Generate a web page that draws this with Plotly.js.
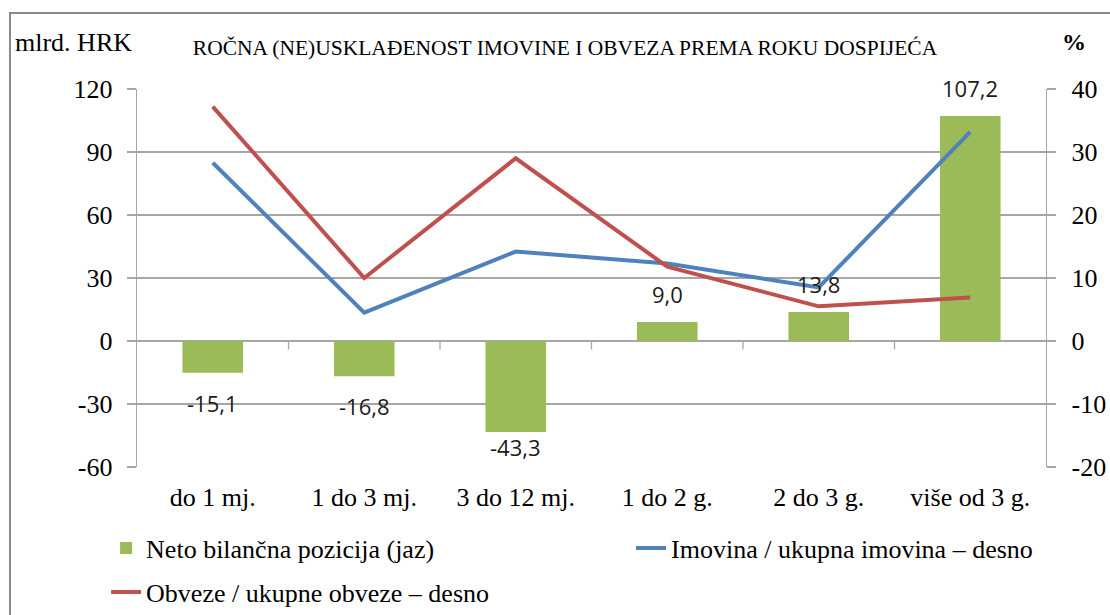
<!DOCTYPE html>
<html>
<head>
<meta charset="utf-8">
<script src="https://cdn.plot.ly/plotly-3.0.1.min.js"></script>
<style>html,body{margin:0;padding:0;background:#fff;}#chart{width:1110px;height:615px;}</style>
</head>
<body>
<div id="chart"></div>
<script>
const categories = ['do 1 mj.', '1 do 3 mj.', '3 do 12 mj.', '1 do 2 g.', '2 do 3 g.', 'više od 3 g.'];
const netoJaz = [-15.1, -16.8, -43.3, 9.0, 13.8, 107.2];
const imovinaPct = [28.3, 4.5, 14.2, 12.3, 8.5, 33.2];
const obvezePct = [37.2, 10.0, 29.0, 11.8, 5.5, 6.9];
const leftTicks = [-60, -30, 0, 30, 60, 90, 120];
const rightTicks = [-20, -10, 0, 10, 20, 30, 40];
const seriesNames = ['Neto bilančna pozicija (jaz)', 'Imovina / ukupna imovina – desno', 'Obveze / ukupne obveze – desno'];
const chartTitle = 'ROČNA (NE)USKLAĐENOST IMOVINE I OBVEZA PREMA ROKU DOSPIJEĆA';
const leftUnit = 'mlrd. HRK';
const rightUnit = '%';

const idx = categories.map((c, i) => i);
const serif = 'Liberation Serif, Times New Roman, serif';
const sans = 'Open Sans, sans-serif';
const grid = '#a6a6a6';
const yMin = leftTicks[0], yMax = leftTicks[leftTicks.length - 1];

const traces = [
  {type: 'bar', x: idx, y: netoJaz, yaxis: 'y', name: seriesNames[0], width: 0.4,
   marker: {color: '#9bbb59'}, hoverinfo: 'skip', legend: 'legend'},
  {type: 'scatter', mode: 'lines', x: idx, y: imovinaPct, yaxis: 'y2', name: seriesNames[1],
   line: {color: '#4f81bd', width: 4}, hoverinfo: 'skip', legend: 'legend2'},
  {type: 'scatter', mode: 'lines', x: idx, y: obvezePct, yaxis: 'y2', name: seriesNames[2],
   line: {color: '#c0504d', width: 4}, hoverinfo: 'skip', legend: 'legend3'}
];

const fmt = v => v.toFixed(1).replace('.', ',');
const annotations = netoJaz.map((v, i) => {
  if (v >= 0) {
    return {x: i, y: v, xref: 'x', yref: 'y', text: fmt(v), showarrow: false,
            yanchor: 'bottom', yshift: 11, font: {family: sans, size: 22, color: '#1a1a1a'}};
  }
  const overflow = (v - 22) < yMin;
  return {x: i, y: overflow ? yMin : v, xref: 'x', yref: 'y', text: fmt(v), showarrow: false,
          yanchor: overflow ? 'bottom' : 'top', yshift: overflow ? 3 : -13,
          font: {family: sans, size: 22, color: '#1a1a1a'}};
});
annotations.push({xref: 'paper', yref: 'paper', x: -0.1364, y: 1.124, xanchor: 'left', yanchor: 'middle',
  text: leftUnit, showarrow: false, font: {family: serif, size: 26, color: '#000'}});
annotations.push({xref: 'paper', yref: 'paper', x: 1.0308, y: 1.124, xanchor: 'center', yanchor: 'middle',
  text: '<b>' + rightUnit + '</b>', showarrow: false, font: {family: serif, size: 24, color: '#000'}});

const shapes = [
  {type: 'rect', xref: 'paper', yref: 'paper', x0: -0.1397, x1: 1.2, y0: -0.6, y1: 1.2011,
   line: {color: '#8a8a8a', width: 2}, fillcolor: 'rgba(0,0,0,0)', layer: 'below'}
];
for (let i = 0; i < categories.length - 1; i++) {
  shapes.push({type: 'line', xref: 'x', yref: 'y', x0: i + 0.5, x1: i + 0.5, y0: 0, y1: -4,
               line: {color: grid, width: 1.3}});
}

const legendBase = {orientation: 'h', xanchor: 'left', yanchor: 'middle', bgcolor: 'rgba(0,0,0,0)',
                    font: {family: serif, size: 26, color: '#000'}};

const layout = {
  width: 1110, height: 615,
  margin: {l: 137, r: 64, t: 89, b: 148, autoexpand: false},
  paper_bgcolor: '#fff', plot_bgcolor: '#fff',
  title: {text: chartTitle, xref: 'container', yref: 'container', x: 0.509, y: 0.9236,
          xanchor: 'center', yanchor: 'middle', font: {family: serif, size: 21.5, color: '#000'}},
  xaxis: {range: [-0.5, 5.5], tickvals: idx, ticktext: categories, showgrid: false, zeroline: false,
          showline: false, ticks: '', ticklabelstandoff: 12, fixedrange: true,
          tickfont: {family: serif, size: 26, color: '#000'}},
  yaxis: {range: [yMin, yMax], tickvals: leftTicks, ticktext: leftTicks.map(String),
          showgrid: true, gridcolor: grid, gridwidth: 1.3,
          zeroline: true, zerolinecolor: grid, zerolinewidth: 1.3, showline: true, linecolor: grid, linewidth: 1.3,
          ticks: 'outside', ticklen: 9, tickcolor: grid, tickwidth: 1.3, ticklabelstandoff: 9,
          tickfont: {family: serif, size: 26, color: '#000'}, fixedrange: true},
  yaxis2: {range: [rightTicks[0], rightTicks[rightTicks.length - 1]], tickvals: rightTicks, ticktext: rightTicks.map(String),
           overlaying: 'y', side: 'right',
           showgrid: false, zeroline: false, showline: true, linecolor: grid, linewidth: 1.3,
           ticks: 'outside', ticklen: 9, tickcolor: grid, tickwidth: 1.3, ticklabelstandoff: 10,
           tickfont: {family: serif, size: 26, color: '#000'}, fixedrange: true},
  legend: Object.assign({x: -0.034, y: -0.2143}, legendBase),
  legend2: Object.assign({x: 0.5435, y: -0.2143}, legendBase),
  legend3: Object.assign({x: -0.034, y: -0.3307}, legendBase),
  showlegend: true,
  annotations: annotations,
  shapes: shapes
};

Plotly.newPlot('chart', traces, layout, {displayModeBar: false, staticPlot: true});
</script>
</body>
</html>
